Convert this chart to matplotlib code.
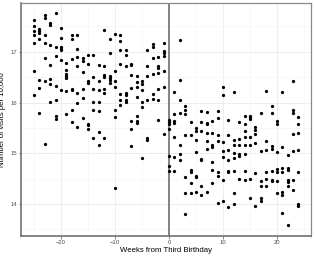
import matplotlib.pyplot as plt
import numpy as np

plt.rcParams['font.family'] = ['Liberation Sans', 'DejaVu Sans']

# visits per 10,000, grouped by week from birthday
visits = {
    -25: [17.62, 17.50, 17.40, 17.33, 17.18, 16.62, 16.14],
    -24: [17.45, 17.41, 17.38, 17.26, 16.45, 16.28, 15.80],
    -23: [17.72, 17.66, 17.34, 17.18, 16.87, 16.42, 15.19],
    -22: [17.57, 17.52, 17.13, 16.74, 16.47, 16.36, 16.01],
    -21: [17.77, 17.09, 16.91, 16.32, 16.06, 15.74, 15.68],
    -20: [17.47, 17.28, 17.09, 17.06, 17.03, 16.84, 16.24],
    -19: [16.78, 16.64, 16.57, 16.53, 16.49, 16.22, 15.78],
    -18: [17.34, 17.26, 16.86, 16.27, 16.24, 15.86, 15.62],
    -17: [17.34, 17.06, 16.90, 16.72, 16.18, 16.00, 15.52],
    -16: [16.88, 16.81, 16.61, 16.27, 16.09, 15.70],
    -15: [16.93, 16.76, 16.42, 16.38, 15.58, 15.55, 15.48],
    -14: [16.93, 16.50, 16.26, 16.01, 15.85, 15.30],
    -13: [16.74, 16.42, 16.24, 16.01, 15.83, 15.42, 15.16],
    -12: [17.43, 16.72, 16.55, 16.51, 16.27, 16.18, 15.31],
    -11: [17.26, 16.98, 16.52, 16.49, 16.44, 16.39],
    -10: [17.36, 16.62, 16.42, 16.31, 15.86, 15.72, 14.31],
    -9: [17.33, 17.22, 17.03, 16.76, 16.17, 16.06, 15.95],
    -8: [17.03, 16.93, 16.72, 16.19, 16.14, 16.06, 16.01],
    -7: [16.76, 16.74, 16.55, 16.29, 15.63, 15.47, 15.14],
    -6: [16.53, 16.40, 16.31, 16.11, 15.73, 15.64, 15.60],
    -5: [16.43, 16.37, 16.24, 16.01, 15.91, 14.91],
    -4: [17.03, 16.72, 16.53, 16.05, 15.30, 15.27],
    -3: [17.16, 17.09, 16.87, 16.57, 16.16, 16.07],
    -2: [16.89, 16.72, 16.68, 16.59, 16.26, 16.06, 15.66],
    -1: [17.18, 17.01, 16.97, 16.91, 16.62, 16.30, 15.38],
    0: [15.66, 15.62, 15.58, 15.47, 14.94, 14.74, 14.65],
    1: [16.20, 15.77, 15.64, 15.60, 15.33, 14.92, 14.66],
    2: [17.23, 16.45, 16.06, 15.80, 15.16, 14.99, 14.87],
    3: [15.94, 15.86, 15.77, 15.36, 14.53, 14.22, 13.80],
    4: [15.62, 15.36, 14.68, 14.64, 14.41, 14.22],
    5: [15.50, 15.43, 15.27, 15.02, 14.55, 14.53, 14.24],
    6: [15.84, 15.62, 15.43, 14.89, 14.87, 14.35, 14.18],
    7: [15.82, 15.60, 15.57, 15.40, 15.25, 15.09, 14.24],
    8: [15.64, 15.40, 15.16, 15.12, 14.83, 14.68, 14.41],
    9: [15.84, 15.70, 15.36, 15.25, 14.63, 14.55, 14.02],
    10: [16.30, 16.14, 15.22, 15.04, 14.92, 14.48, 14.07],
    11: [15.66, 15.36, 15.07, 14.87, 14.66, 14.63, 13.95],
    12: [16.20, 15.26, 15.17, 15.00, 14.91, 14.66, 14.22, 14.00],
    13: [15.62, 15.29, 15.17, 14.99, 14.95, 14.50],
    14: [15.74, 15.57, 15.43, 15.33, 15.17, 14.99, 14.66, 14.48],
    15: [15.74, 15.71, 15.68, 15.32, 15.17, 14.50, 14.12],
    16: [15.51, 15.45, 15.38, 15.20, 14.61, 13.97],
    17: [15.80, 15.05, 14.46, 14.36, 14.12, 14.07],
    18: [16.22, 15.24, 15.06, 14.64, 14.50, 14.36],
    19: [15.94, 15.80, 15.14, 15.09, 14.66, 14.48, 14.46],
    20: [15.63, 15.57, 15.03, 14.70, 14.63, 14.46, 14.22],
    21: [16.20, 15.12, 14.71, 14.64, 14.24, 14.17, 13.82],
    22: [14.96, 14.71, 14.68, 14.48, 14.43, 14.36, 13.58],
    23: [16.42, 15.85, 15.80, 15.39, 15.04, 14.48, 14.28],
    24: [15.72, 15.57, 15.40, 15.06, 14.63, 14.00, 13.97],
}

x_ticks = [-20, -10, 0, 10, 20]
y_ticks = [14, 15, 16, 17]

weeks = np.concatenate([[w] * len(v) for w, v in visits.items()])
vals = np.concatenate([v for v in visits.values()])

fig = plt.figure(figsize=(3.15, 2.56), dpi=100)
ax = fig.add_axes([0.067, 0.078, 0.92, 0.91])

ax.set_xlim(-27.4, 26.3)
ax.set_ylim(13.37, 17.96)

ax.set_xticks(x_ticks)
ax.set_yticks(y_ticks)
ax.set_xticks(np.arange(-25, 26, 10), minor=True)
ax.set_yticks(np.arange(13.5, 18, 1), minor=True)
ax.grid(True, which='major', color='#ebebeb', lw=0.6)
ax.grid(True, which='minor', color='#f4f4f4', lw=0.4)
ax.set_axisbelow(True)

for s in ['top', 'right']:
    ax.spines[s].set_color('#8a8a8a')
    ax.spines[s].set_linewidth(0.9)
for s in ['left', 'bottom']:
    ax.spines[s].set_color('#666666')
    ax.spines[s].set_linewidth(1.1)

ax.axvline(0, color='#7a7a7a', lw=1.3, zorder=2)
ax.scatter(weeks, vals, s=5.5, color='black', linewidths=0, zorder=3)

ax.tick_params(which='major', length=1.8, width=0.5, color='#555555',
               labelsize=4.2, labelcolor='#4d4d4d', pad=1.2)
ax.tick_params(which='minor', length=0)

ax.set_xlabel("Weeks from Third Birthday", fontsize=5.6)
ax.set_ylabel("Number of visits per 10,000", fontsize=5.6)
ax.xaxis.set_label_coords(0.5, -0.048)
ax.yaxis.set_label_coords(-0.053, 0.5)

fig.savefig("out.png", dpi=100)
